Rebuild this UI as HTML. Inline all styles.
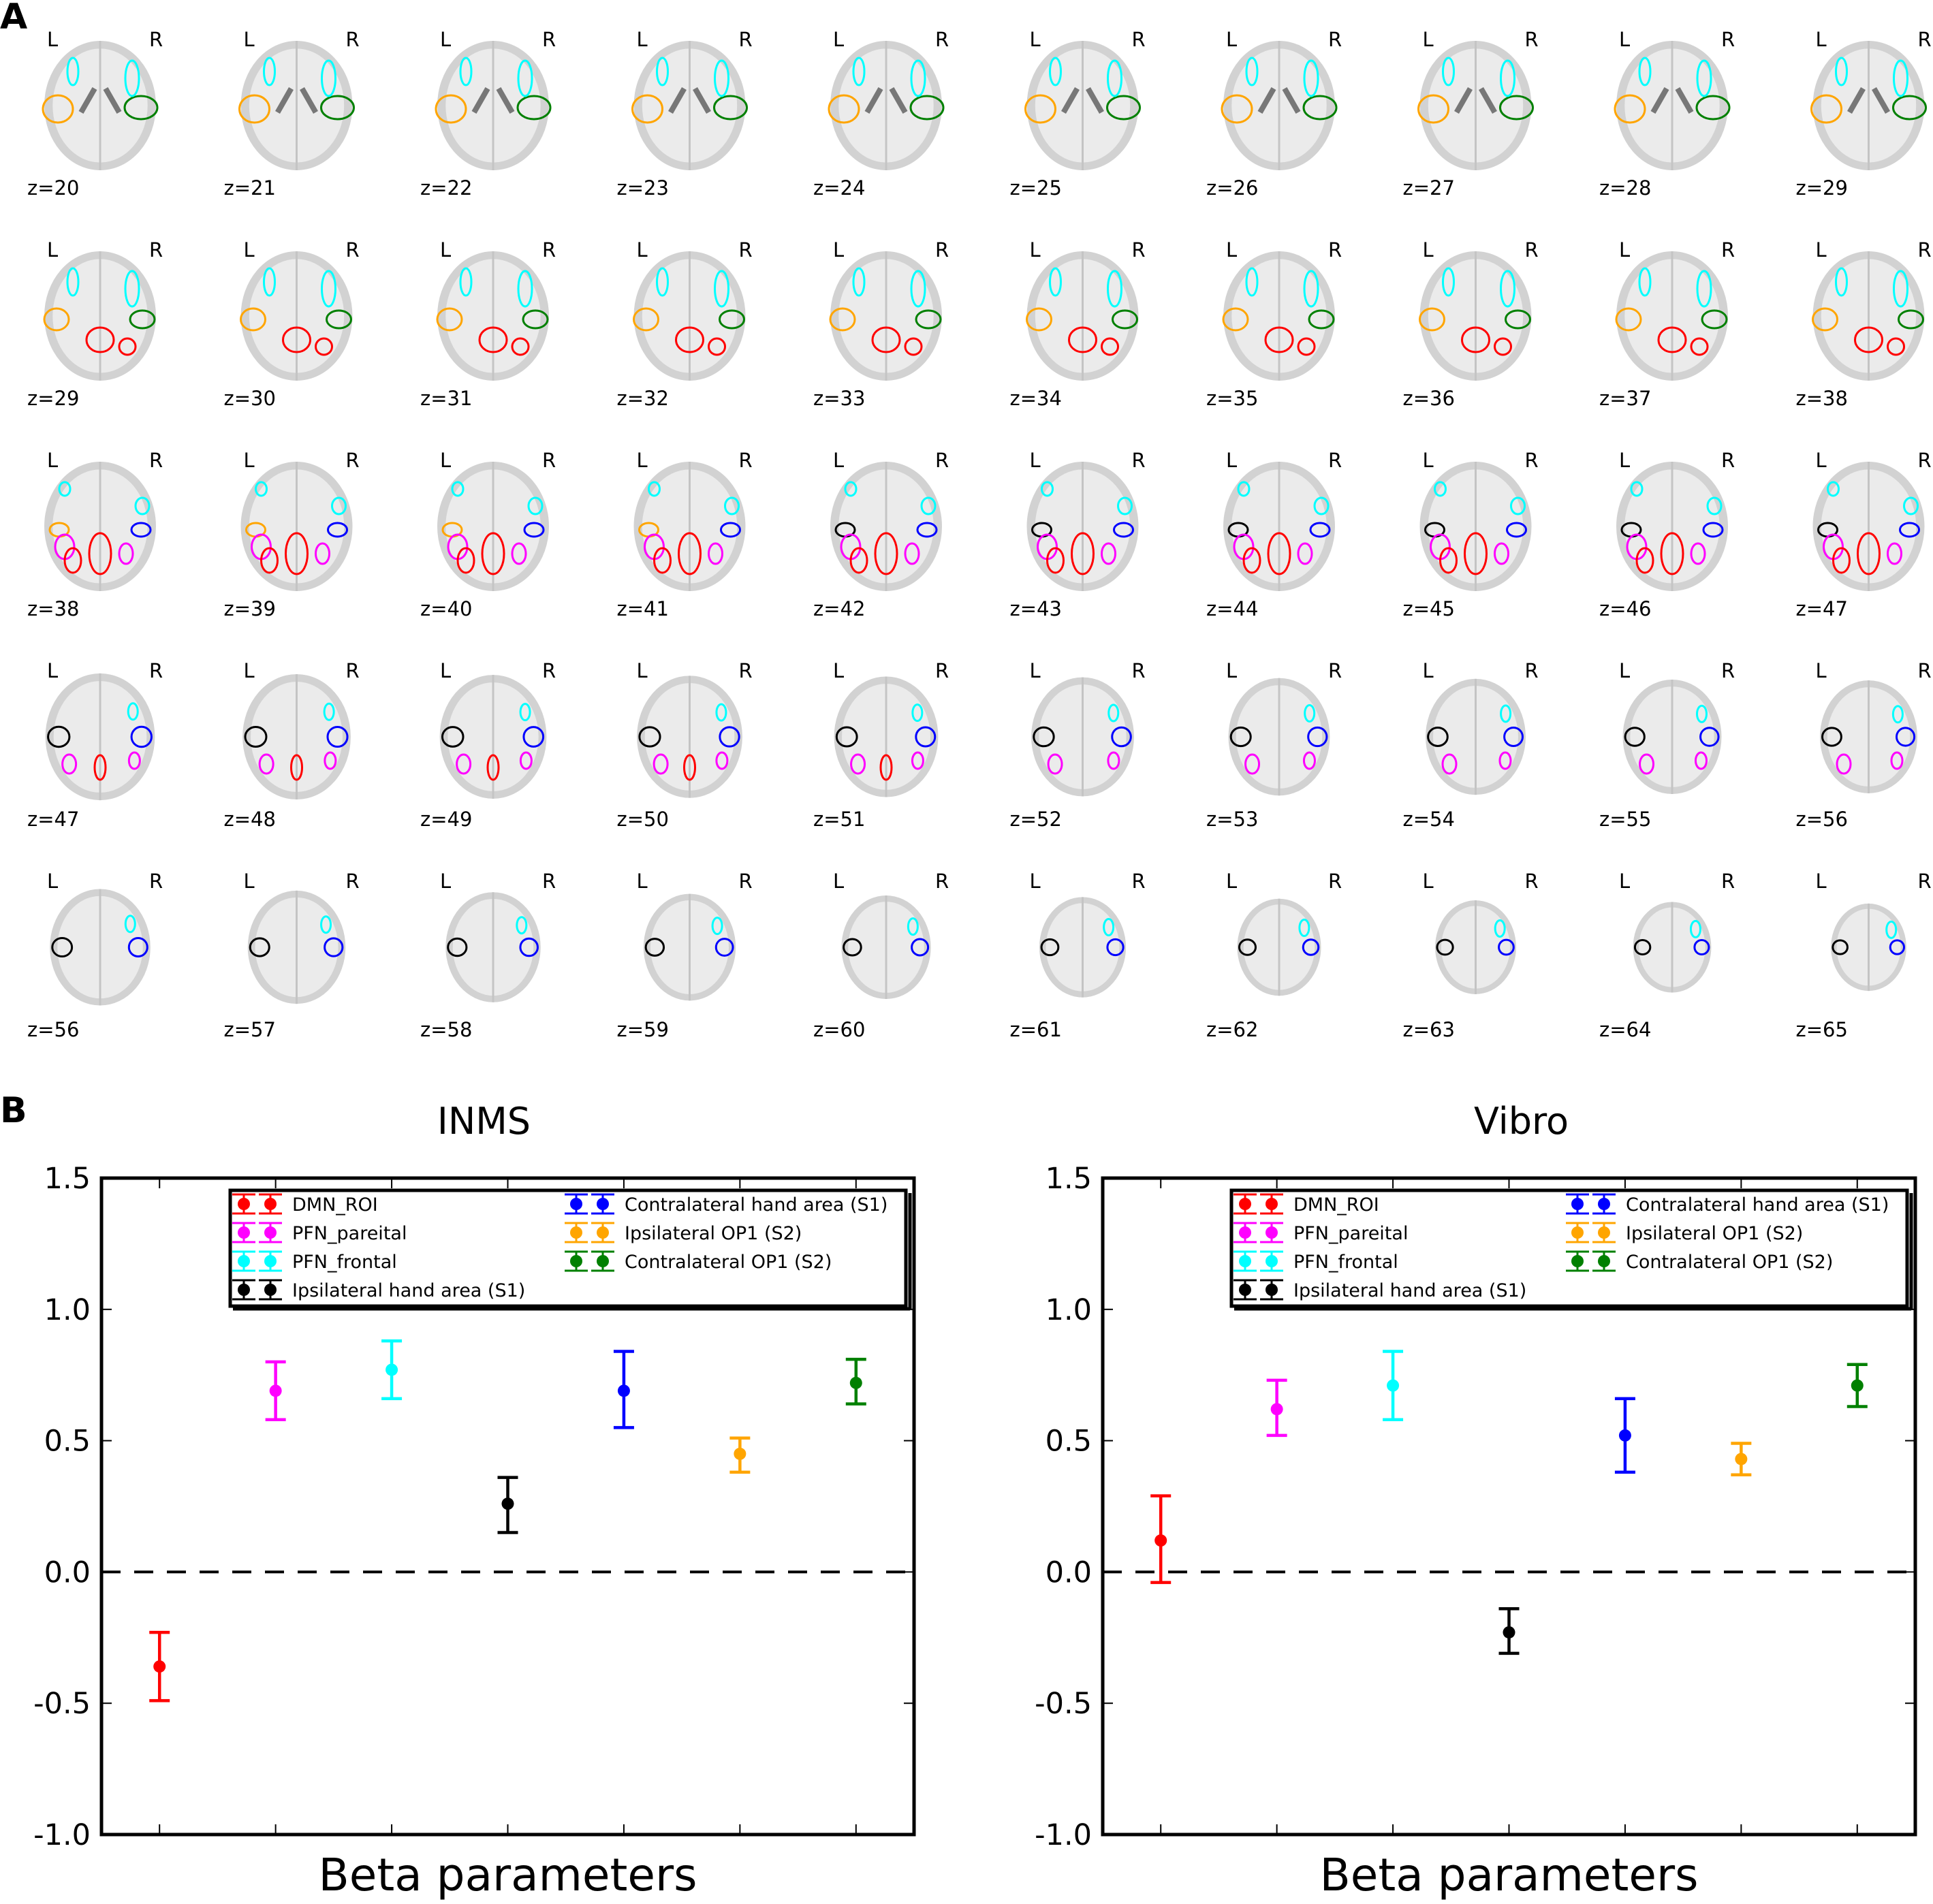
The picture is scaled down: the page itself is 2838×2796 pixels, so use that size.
<!DOCTYPE html>
<html><head><meta charset="utf-8"><style>
html,body{margin:0;padding:0;background:#fff}
svg{display:block;font-family:"DejaVu Sans","Liberation Sans",sans-serif}
</style></head><body>
<svg id="fig" width="2838" height="2796" viewBox="0 0 2838 2796" xmlns="http://www.w3.org/2000/svg">
<text x="0" y="42" font-size="52" font-weight="bold">A</text>
<text x="0" y="1648" font-size="52" font-weight="bold">B</text>
<g id="brains"></g>
<g id="charts"></g>
</svg>
<script>
const NS="http://www.w3.org/2000/svg";
function mk(tag,attrs,parent){const e=document.createElementNS(NS,tag);for(const k in attrs)e.setAttribute(k,attrs[k]);if(parent)parent.appendChild(e);return e;}

// ---------- Panel A: brain slices ----------
const zRows=[[20,21,22,23,24,25,26,27,28,29],[29,30,31,32,33,34,35,36,37,38],[38,39,40,41,42,43,44,45,46,47],[47,48,49,50,51,52,53,54,55,56],[56,57,58,59,60,61,62,63,64,65]];
const bg=document.getElementById('brains');
zRows.forEach((row,r)=>{
  row.forEach((z,c)=>{
    const cx=147+288.5*c, top=60+309*r;
    let s=1;
    if(r===3) s=1-0.012*c-0.02;
    if(r===4) s=0.9-0.025*c;
    const w=82*s, h=95*s, cy=top+95;
    const g=mk('g',{},bg);
    
    
    const tl=mk('text',{x:cx-78,y:top+8,'font-size':29},g);tl.textContent='L';
    const tr=mk('text',{x:cx+72,y:top+8,'font-size':29},g);tr.textContent='R';
    mk('ellipse',{cx:cx,cy:cy,rx:w,ry:h,fill:'#d2d2d2'},g);
    mk('ellipse',{cx:cx,cy:cy,rx:w*0.85,ry:h*0.88,fill:'#ebebeb'},g);
    mk('line',{x1:cx,y1:cy-h,x2:cx,y2:cy+h,stroke:'#c4c4c4','stroke-width':3},g);
    if(r===0){
      mk('path',{d:`M${cx-28} ${cy+10} L${cx-8} ${cy-25} M${cx+28} ${cy+10} L${cx+8} ${cy-25}`,stroke:'#777','stroke-width':8,fill:'none'},g);
      mk('ellipse',{cx:cx-w+20,cy:cy+5,rx:22,ry:20,fill:'none',stroke:'orange','stroke-width':3},g);
      mk('ellipse',{cx:cx+w-22,cy:cy+3,rx:24,ry:17,fill:'none',stroke:'green','stroke-width':3},g);
    }
    if(r<=1){
      mk('ellipse',{cx:cx-w+42,cy:cy-50,rx:8,ry:20,fill:'none',stroke:'cyan','stroke-width':3},g);
      mk('ellipse',{cx:cx+w-35,cy:cy-40,rx:10,ry:26,fill:'none',stroke:'cyan','stroke-width':3},g);
    }
    if(r===1){
      mk('ellipse',{cx:cx-w+18,cy:cy+5,rx:18,ry:16,fill:'none',stroke:'orange','stroke-width':3},g);
      mk('ellipse',{cx:cx+w-20,cy:cy+5,rx:18,ry:13,fill:'none',stroke:'green','stroke-width':3},g);
      mk('ellipse',{cx:cx,cy:cy+35,rx:20,ry:18,fill:'none',stroke:'red','stroke-width':3},g);
      mk('ellipse',{cx:cx+40,cy:cy+45,rx:12,ry:12,fill:'none',stroke:'red','stroke-width':3},g);
    }
    if(r===2){
      mk('ellipse',{cx:cx-w+30,cy:cy-55,rx:8,ry:10,fill:'none',stroke:'cyan','stroke-width':3},g);
      mk('ellipse',{cx:cx+w-20,cy:cy-30,rx:10,ry:12,fill:'none',stroke:'cyan','stroke-width':3},g);
      mk('ellipse',{cx:cx-w+22,cy:cy+5,rx:14,ry:10,fill:'none',stroke:c>3?'black':'orange','stroke-width':3},g);
      mk('ellipse',{cx:cx+w-22,cy:cy+5,rx:14,ry:10,fill:'none',stroke:'blue','stroke-width':3},g);
      mk('ellipse',{cx:cx-w+30,cy:cy+30,rx:14,ry:18,fill:'none',stroke:'magenta','stroke-width':3},g);
      mk('ellipse',{cx:cx,cy:cy+40,rx:16,ry:30,fill:'none',stroke:'red','stroke-width':3},g);
      mk('ellipse',{cx:cx-40,cy:cy+50,rx:12,ry:18,fill:'none',stroke:'red','stroke-width':3},g);
      mk('ellipse',{cx:cx+38,cy:cy+40,rx:10,ry:15,fill:'none',stroke:'magenta','stroke-width':3},g);
    }
    if(r>=3){
      mk('ellipse',{cx:cx+w*0.6,cy:cy-h*0.4,rx:7,ry:12,fill:'none',stroke:'cyan','stroke-width':3},g);
      mk('ellipse',{cx:cx-w+20*s,cy:cy,rx:16*s,ry:15*s,fill:'none',stroke:'black','stroke-width':3},g);
      mk('ellipse',{cx:cx+w-20*s,cy:cy,rx:15*s,ry:15*s,fill:'none',stroke:'blue','stroke-width':3},g);
    }
    if(r===3){
      mk('ellipse',{cx:cx-w+35,cy:cy+40,rx:10,ry:14,fill:'none',stroke:'magenta','stroke-width':3},g);
      mk('ellipse',{cx:cx+w-30,cy:cy+35,rx:8,ry:12,fill:'none',stroke:'magenta','stroke-width':3},g);
      if(c<5) mk('ellipse',{cx:cx,cy:cy+45,rx:8,ry:18,fill:'none',stroke:'red','stroke-width':3},g);
    }
    const zt=mk('text',{x:cx-107,y:top+226,'font-size':29},g);zt.textContent='z='+z;
  });
});

// ---------- Panel B: error-bar charts ----------
const seriesNames=['DMN_ROI','PFN_pareital','PFN_frontal','Ipsilateral hand area (S1)','Contralateral hand area (S1)','Ipsilateral OP1 (S2)','Contralateral OP1 (S2)'];
const seriesColors=['red','magenta','cyan','black','blue','orange','green'];
const yTicks=[1.5,1.0,0.5,0.0,-0.5,-1.0];
const inmsMean=[-0.36,0.69,0.77,0.26,0.69,0.45,0.72];
const inmsLow=[-0.49,0.58,0.66,0.15,0.55,0.38,0.64];
const inmsHigh=[-0.23,0.80,0.88,0.36,0.84,0.51,0.81];
const vibroMean=[0.12,0.62,0.71,-0.23,0.52,0.43,0.71];
const vibroLow=[-0.04,0.52,0.58,-0.31,0.38,0.37,0.63];
const vibroHigh=[0.29,0.73,0.84,-0.14,0.66,0.49,0.79];

const charts=document.getElementById('charts');
function drawChart(x0,title,mean,low,high,key,titleDx){
  const W=1193,T=1730,B=2694;
  const sx=i=>x0+(i+0.5)/7*W;
  const sy=v=>B-(v+1)/2.5*(B-T);
  const g=mk('g',{},charts);
  
  
  const t=mk('text',{x:x0+W/2+titleDx,y:1665,'font-size':54,'text-anchor':'middle'},g);t.textContent=title;
  
  
  const xl=mk('text',{x:x0+W/2,y:2798-22,'font-size':66,'text-anchor':'middle'},g);xl.textContent='Beta parameters';
  
  
  yTicks.forEach(v=>{
    const y=sy(v);
    mk('line',{x1:x0,y1:y,x2:x0+15,y2:y,stroke:'#000','stroke-width':2},g);
    mk('line',{x1:x0+W,y1:y,x2:x0+W-15,y2:y,stroke:'#000','stroke-width':2},g);
    const tl=mk('text',{x:x0-16,y:y+15,'font-size':43,'text-anchor':'end'},g);
    tl.textContent=v.toFixed(1);
    
    
  });
  for(let i=0;i<7;i++){
    mk('line',{x1:sx(i),y1:B,x2:sx(i),y2:B-15,stroke:'#000','stroke-width':2},g);
    mk('line',{x1:sx(i),y1:T,x2:sx(i),y2:T+15,stroke:'#000','stroke-width':2},g);
  }
  mk('line',{x1:x0,y1:sy(0),x2:x0+W,y2:sy(0),stroke:'#000','stroke-width':4,'stroke-dasharray':'28,20'},g);
  for(let i=0;i<7;i++){
    const eg=mk('g',{stroke:seriesColors[i],'stroke-width':4.5},g);
    
    
    const x=sx(i);
    mk('line',{x1:x,y1:sy(low[i]),x2:x,y2:sy(high[i])},eg);
    mk('line',{x1:x-15,y1:sy(low[i]),x2:x+15,y2:sy(low[i])},eg);
    mk('line',{x1:x-15,y1:sy(high[i]),x2:x+15,y2:sy(high[i])},eg);
    mk('circle',{cx:x,cy:sy(mean[i]),r:9,fill:seriesColors[i],stroke:'none'},eg);
  }
  mk('rect',{x:x0,y:T,width:W,height:B-T,fill:'none',stroke:'#000','stroke-width':5},g);
  const lg=mk('g',{},g);
  
  
  const lx=x0+189;
  mk('rect',{x:lx,y:1748,width:992,height:170,fill:'#fff',stroke:'#000','stroke-width':5},lg);
  mk('line',{x1:lx+998,y1:1752,x2:lx+998,y2:1924,stroke:'#000','stroke-width':5},lg);
  mk('line',{x1:lx+4,y1:1922,x2:lx+998,y2:1922,stroke:'#000','stroke-width':5},lg);
  for(let i=0;i<7;i++){
    const col=i<4?0:1,row=i<4?i:i-4;
    const bx=lx+(col?488:0), y=1768+row*42;
    const e=mk('g',{stroke:seriesColors[i],'stroke-width':3},lg);
    
    
    [20,59].forEach(dx=>{
      mk('line',{x1:bx+dx,y1:y-14,x2:bx+dx,y2:y+14},e);
      mk('line',{x1:bx+dx-17,y1:y-14,x2:bx+dx+17,y2:y-14},e);
      mk('line',{x1:bx+dx-17,y1:y+14,x2:bx+dx+17,y2:y+14},e);
      mk('circle',{cx:bx+dx,cy:y,r:9,fill:seriesColors[i],stroke:'none'},e);
    });
    const tx=mk('text',{x:bx+91,y:y+10,'font-size':27,fill:'#000',stroke:'none'},e);
    tx.textContent=seriesNames[i];
  }
}
drawChart(149,'INMS',inmsMean,inmsLow,inmsHigh,'inms',-35);
drawChart(1619,'Vibro',vibroMean,vibroLow,vibroHigh,'vibro',18);
</script>
</body></html>
